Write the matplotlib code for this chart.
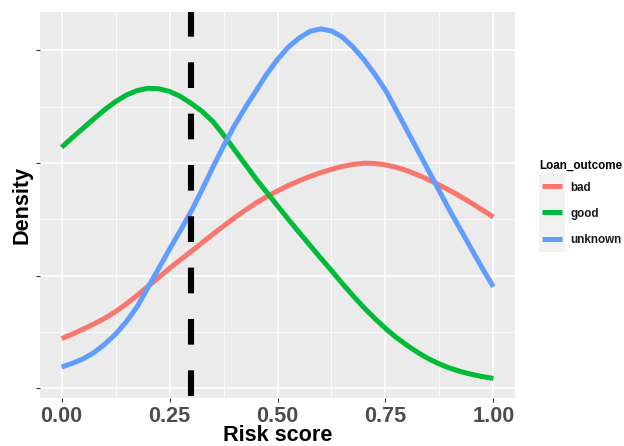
import matplotlib
matplotlib.use("Agg")
import matplotlib.pyplot as plt
from matplotlib.patches import Rectangle
from matplotlib.lines import Line2D

plt.rcParams['font.family'] = ['Liberation Sans', 'DejaVu Sans']

# risk score grid and density (step 0.025)
risk = [0.000, 0.025, 0.050, 0.075, 0.100, 0.125, 0.150, 0.175, 0.200, 0.225,
        0.250, 0.275, 0.300, 0.325, 0.350, 0.375, 0.400, 0.425, 0.450, 0.475,
        0.500, 0.525, 0.550, 0.575, 0.600, 0.625, 0.650, 0.675, 0.700, 0.725,
        0.750, 0.775, 0.800, 0.825, 0.850, 0.875, 0.900, 0.925, 0.950, 0.975,
        1.000]
dens_bad = [0.220, 0.240, 0.262, 0.285, 0.310, 0.340, 0.374, 0.412, 0.452, 0.492,
            0.532, 0.570, 0.607, 0.645, 0.683, 0.720, 0.756, 0.790, 0.822, 0.850,
            0.876, 0.900, 0.921, 0.940, 0.957, 0.972, 0.985, 0.994, 0.999, 0.998,
            0.992, 0.981, 0.966, 0.947, 0.926, 0.902, 0.877, 0.850, 0.821, 0.791,
            0.760]
dens_good = [1.070, 1.113, 1.155, 1.197, 1.237, 1.273, 1.302, 1.322, 1.332, 1.330,
             1.318, 1.296, 1.265, 1.230, 1.185, 1.125, 1.060, 0.995, 0.930, 0.870,
             0.810, 0.750, 0.692, 0.635, 0.578, 0.522, 0.465, 0.410, 0.358, 0.310,
             0.265, 0.225, 0.190, 0.158, 0.130, 0.107, 0.088, 0.073, 0.061, 0.051,
             0.043]
dens_unknown = [0.094, 0.110, 0.130, 0.158, 0.195, 0.240, 0.295, 0.362, 0.447, 0.532,
                0.617, 0.700, 0.785, 0.880, 0.980, 1.075, 1.165, 1.245, 1.320, 1.395,
                1.460, 1.515, 1.555, 1.585, 1.596, 1.587, 1.560, 1.515, 1.460, 1.395,
                1.324, 1.235, 1.145, 1.055, 0.965, 0.875, 0.785, 0.700, 0.615, 0.530,
                0.450]

outcomes = ['bad', 'good', 'unknown']
colors = ['#F8766D', '#00BA38', '#619CFF']
cutoff = 0.3

x_ticks = [0.00, 0.25, 0.50, 0.75, 1.00]
x_tick_labels = ['0.00', '0.25', '0.50', '0.75', '1.00']
y_ticks = [0.0, 0.5, 1.0, 1.5]

W, H = 624, 446
fig = plt.figure(figsize=(W / 100, H / 100), dpi=100)

def fx(px):
    return px / W

def fy(py):
    return 1 - py / H

ax = fig.add_axes([fx(40), fy(398), fx(515) - fx(40), fy(12) - fy(398)])
ax.set_facecolor('#EBEBEB')
for s in ax.spines.values():
    s.set_visible(False)

ax.set_xlim(-0.05, 1.05)
ax.set_ylim(-0.044, 1.671)

# grid
for v in [0.125, 0.375, 0.625, 0.875]:
    ax.axvline(v, color='white', lw=0.55, zorder=0)
for v in [0.25, 0.75, 1.25]:
    ax.axhline(v, color='white', lw=0.55, zorder=0)
for v in x_ticks:
    ax.axvline(v, color='white', lw=1.1, zorder=0)
for v in y_ticks:
    ax.axhline(v, color='white', lw=1.1, zorder=0)

series = [dens_bad, dens_good, dens_unknown]
for name, ys, c in zip(outcomes, series, colors):
    ax.plot(risk, ys, color=c, lw=3.6, solid_capstyle='butt',
            solid_joinstyle='round', zorder=2)

ax.axvline(cutoff, color='black', lw=4.4, linestyle=(8.07, (4.2, 4.2)), zorder=3)

ax.set_xticks(x_ticks)
ax.set_xticklabels(x_tick_labels, fontsize=15.6, fontweight='bold', color='#4D4D4D')
ax.set_yticks(y_ticks)
ax.set_yticklabels([])
ax.tick_params(axis='both', direction='out', length=2.9, width=0.8, color='#333333', pad=2.5)

fig.text(fx(277.5), fy(441), 'Risk score', ha='center', va='baseline',
         fontsize=15.6, fontweight='bold', color='black')
fig.text(fx(11), fy(205), 'Density', ha='left', va='center', rotation=90,
         fontsize=15.6, fontweight='bold', color='black')

# legend
fig.text(fx(539), fy(168.3), 'Loan_outcome', ha='left', va='baseline',
         fontsize=8.4, fontweight='bold', color='black')
fig.add_artist(Rectangle((fx(539), fy(251.7)), fx(565) - fx(539), fy(173.3) - fy(251.7),
                         transform=fig.transFigure, facecolor='#F2F2F2', edgecolor='none'))
key_top = 173.3
key_h = 26.1
for i, (name, c) in enumerate(zip(outcomes, colors)):
    cy = key_top + key_h * (i + 0.5)
    fig.add_artist(Line2D([fx(541.7), fx(561.7)], [fy(cy), fy(cy)], color=c, lw=3.6,
                          solid_capstyle='butt', transform=fig.transFigure))
    fig.text(fx(570.7), fy(cy + 4.3), name, ha='left', va='baseline',
             fontsize=8.4, fontweight='bold', color='#1A1A1A')

fig.savefig('out.png', dpi=100)
